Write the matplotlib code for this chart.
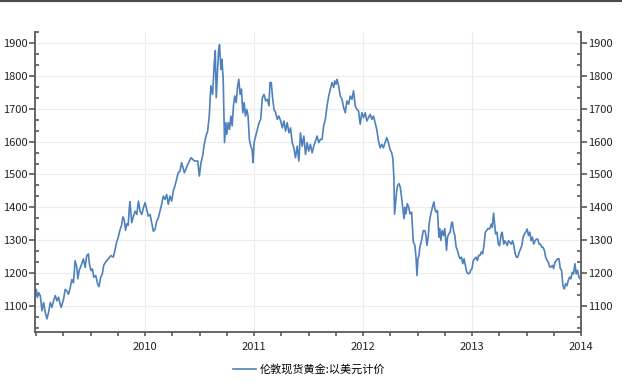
import matplotlib
matplotlib.use('Agg')
import matplotlib.pyplot as plt
from matplotlib.ticker import MultipleLocator, FormatStrFormatter
from matplotlib.lines import Line2D

plt.rcParams['font.family'] = ['Noto Sans CJK SC', 'DejaVu Sans']

# series name
label = '伦敦现货黄金:以美元计价'

# time as decimal year, price in USD
years = [
    2008.993, 2009.002, 2009.011, 2009.023, 2009.039, 2009.054, 2009.069, 2009.084,
    2009.100, 2009.115, 2009.130, 2009.145, 2009.160, 2009.176, 2009.191, 2009.206,
    2009.221, 2009.230, 2009.252, 2009.267, 2009.282, 2009.297, 2009.313, 2009.328,
    2009.343, 2009.358, 2009.374, 2009.383, 2009.395, 2009.413, 2009.434, 2009.450,
    2009.465, 2009.480, 2009.489, 2009.504, 2009.517, 2009.529, 2009.547, 2009.565,
    2009.577, 2009.593, 2009.608, 2009.620, 2009.638, 2009.663, 2009.687, 2009.708,
    2009.724, 2009.739, 2009.754, 2009.769, 2009.784, 2009.797, 2009.809, 2009.821,
    2009.833, 2009.845, 2009.854, 2009.861,
    2009.878, 2009.893, 2009.909, 2009.924, 2009.939, 2009.954, 2009.970, 2009.985,
    2010.000, 2010.015, 2010.030, 2010.046, 2010.061, 2010.076, 2010.091, 2010.107,
    2010.122, 2010.137, 2010.152, 2010.167, 2010.183, 2010.198, 2010.213, 2010.228,
    2010.244, 2010.259, 2010.274, 2010.289, 2010.304, 2010.320, 2010.335,
    2010.361, 2010.391, 2010.422, 2010.452, 2010.483, 2010.498, 2010.513, 2010.528,
    2010.543, 2010.559, 2010.574, 2010.589, 2010.604, 2010.620, 2010.635, 2010.644,
    2010.653, 2010.665, 2010.674, 2010.683, 2010.696, 2010.705, 2010.717, 2010.729,
    2010.741, 2010.750, 2010.763, 2010.775, 2010.787, 2010.799, 2010.811, 2010.823,
    2010.836, 2010.848, 2010.860, 2010.872, 2010.884, 2010.897, 2010.909, 2010.921,
    2010.933, 2010.945, 2010.957, 2010.970, 2010.982, 2010.991,
    2011.000, 2011.015, 2011.030, 2011.046, 2011.061, 2011.076, 2011.091, 2011.107,
    2011.122, 2011.137, 2011.146, 2011.158, 2011.170, 2011.183, 2011.198, 2011.213,
    2011.228, 2011.244, 2011.259, 2011.274, 2011.289, 2011.304, 2011.320, 2011.335,
    2011.350, 2011.365, 2011.380, 2011.396, 2011.411, 2011.426, 2011.441, 2011.457,
    2011.472, 2011.487, 2011.502, 2011.517, 2011.533, 2011.548, 2011.563, 2011.578,
    2011.594, 2011.609, 2011.624, 2011.639, 2011.654, 2011.670, 2011.685, 2011.700,
    2011.715, 2011.731, 2011.740, 2011.752, 2011.761, 2011.776, 2011.791, 2011.807,
    2011.822, 2011.837, 2011.852, 2011.868, 2011.883, 2011.898, 2011.913, 2011.928,
    2011.944, 2011.959, 2011.974, 2011.989,
    2012.005, 2012.020, 2012.035, 2012.050, 2012.065, 2012.081, 2012.096, 2012.111,
    2012.126, 2012.142, 2012.157, 2012.172, 2012.187, 2012.202, 2012.218, 2012.233,
    2012.248, 2012.263, 2012.274, 2012.283, 2012.289, 2012.298, 2012.309, 2012.318,
    2012.330, 2012.342, 2012.355, 2012.367, 2012.376, 2012.385, 2012.394, 2012.406,
    2012.419, 2012.431, 2012.446, 2012.461, 2012.476, 2012.486, 2012.495, 2012.504,
    2012.513, 2012.522, 2012.537, 2012.553, 2012.568, 2012.577, 2012.586, 2012.598,
    2012.607, 2012.616, 2012.629, 2012.641, 2012.650, 2012.659, 2012.671, 2012.683,
    2012.696, 2012.705, 2012.714, 2012.726, 2012.738, 2012.750, 2012.766, 2012.775,
    2012.787, 2012.799, 2012.811, 2012.820, 2012.830, 2012.842, 2012.854, 2012.866,
    2012.878, 2012.890, 2012.903, 2012.915, 2012.927, 2012.939, 2012.951, 2012.963,
    2012.976, 2012.988,
    2013.000, 2013.012, 2013.024, 2013.037, 2013.049, 2013.061, 2013.073, 2013.085,
    2013.097, 2013.110, 2013.122, 2013.134, 2013.146, 2013.162, 2013.177, 2013.186,
    2013.198, 2013.207, 2013.216, 2013.229, 2013.241, 2013.253, 2013.268, 2013.277,
    2013.290, 2013.299, 2013.311, 2013.323, 2013.335, 2013.347, 2013.360, 2013.372,
    2013.384, 2013.396, 2013.408, 2013.420, 2013.433, 2013.445, 2013.457, 2013.469,
    2013.481, 2013.493, 2013.506, 2013.518, 2013.530, 2013.542, 2013.554, 2013.567,
    2013.579, 2013.591, 2013.603, 2013.615, 2013.627, 2013.640, 2013.652, 2013.664,
    2013.676, 2013.688, 2013.700, 2013.713, 2013.725, 2013.737, 2013.749, 2013.761,
    2013.773, 2013.786, 2013.798, 2013.810, 2013.822, 2013.834, 2013.847, 2013.859,
    2013.871, 2013.883, 2013.895, 2013.907, 2013.920, 2013.932, 2013.944, 2013.956,
    2013.968, 2013.981, 2013.993,
]

prices = [
    1140, 1150, 1125, 1140, 1130, 1085, 1110, 1080,
    1060, 1080, 1110, 1095, 1115, 1131, 1115, 1126,
    1105, 1095, 1120, 1150, 1145, 1135, 1155, 1180,
    1170, 1237, 1217, 1182, 1207, 1222, 1243, 1217,
    1253, 1258, 1228, 1207, 1212, 1187, 1192, 1166,
    1158, 1187, 1197, 1223, 1233, 1243, 1253, 1248,
    1269, 1294, 1309, 1330, 1345, 1371, 1361, 1330,
    1350, 1345, 1392, 1417,
    1353, 1373, 1388, 1378, 1419, 1388, 1378, 1399,
    1414, 1394, 1373, 1378, 1353, 1327, 1332, 1358,
    1368, 1388, 1409, 1434, 1424, 1439, 1409, 1434,
    1419, 1450, 1465, 1485, 1505, 1510, 1536,
    1505, 1530, 1551, 1541, 1541, 1495, 1536, 1556,
    1592, 1617, 1632, 1678, 1770, 1744, 1841, 1877,
    1734, 1815, 1877, 1895, 1820, 1851, 1790, 1597,
    1658, 1622, 1658, 1637, 1678, 1648, 1709, 1739,
    1719, 1765, 1790, 1744, 1760, 1688, 1719, 1678,
    1698, 1678, 1607, 1586, 1576, 1536,
    1597, 1617, 1637, 1658, 1668, 1734, 1744, 1724,
    1729, 1709, 1780, 1780, 1734, 1698, 1688, 1668,
    1678, 1663, 1642, 1663, 1632, 1658, 1627, 1642,
    1597, 1581, 1551, 1586, 1541, 1627, 1586, 1617,
    1561, 1597, 1571, 1592, 1566, 1586, 1602, 1617,
    1597, 1607, 1607, 1648, 1668, 1709, 1739, 1760,
    1780, 1765, 1785, 1775, 1790, 1770, 1739, 1729,
    1704, 1688, 1724, 1714, 1739, 1729, 1755, 1709,
    1698, 1693, 1653, 1688,
    1673, 1688, 1663, 1673, 1683, 1668, 1678, 1658,
    1637, 1602, 1581, 1592, 1581, 1597, 1612, 1597,
    1576, 1566, 1548, 1491, 1379, 1410, 1451, 1467,
    1472, 1461, 1426, 1390, 1365, 1400, 1380, 1411,
    1400, 1380, 1385, 1294, 1284, 1248, 1192, 1243,
    1253, 1279, 1299, 1329, 1329, 1314, 1284, 1309,
    1350, 1370, 1390, 1406, 1416, 1396, 1385, 1390,
    1309, 1335, 1299, 1329, 1314, 1335, 1269, 1309,
    1319, 1324, 1350, 1355, 1329, 1314, 1279, 1269,
    1253, 1243, 1248, 1228, 1243, 1223, 1203, 1198,
    1198, 1208,
    1213, 1238, 1243, 1248, 1238, 1253, 1253, 1264,
    1258, 1284, 1324, 1329, 1335, 1334, 1349, 1339,
    1382, 1349, 1319, 1324, 1288, 1283, 1319, 1324,
    1288, 1298, 1293, 1283, 1298, 1293, 1288, 1298,
    1283, 1258, 1248, 1248, 1263, 1273, 1283, 1309,
    1319, 1324, 1334, 1314, 1324, 1298, 1309, 1288,
    1298, 1303, 1303, 1288, 1288, 1278, 1278, 1268,
    1248, 1238, 1233, 1218, 1218, 1223, 1213, 1233,
    1238, 1243, 1243, 1213, 1208, 1161, 1151, 1167,
    1161, 1177, 1187, 1182, 1202, 1197, 1228, 1197,
    1208, 1187, 1182,
]

year_ticks = [2010, 2011, 2012, 2013, 2014]

fig = plt.figure(figsize=(6.22, 3.81), dpi=100)
ax = fig.add_axes([35 / 622, 1 - 332 / 381, (581 - 35) / 622, 300 / 381])

ax.plot(years, prices, color='#4f81bd', linewidth=1.2, label=label)

ax.set_xlim(2008.99, 2014.0)
ax.set_ylim(1020, 1934)

ax.set_xticks(year_ticks)
ax.xaxis.set_major_formatter(FormatStrFormatter('%d'))
ax.xaxis.set_minor_locator(MultipleLocator(0.25))
ax.yaxis.set_major_locator(MultipleLocator(100))
ax.yaxis.set_minor_locator(MultipleLocator(100 / 3))

# grid only on major ticks
ax.grid(True, which='major', color='#ececec', linewidth=0.8)
ax.set_axisbelow(True)

# spines: left, right, bottom in dark grey
for side in ['left', 'right', 'bottom']:
    ax.spines[side].set_color('#5a5a5a')
    ax.spines[side].set_linewidth(1.3)
ax.spines['top'].set_visible(False)

ax.tick_params(axis='y', which='major', direction='out', length=4, width=1.2,
               color='#5a5a5a', labelsize=8, labelcolor='#222222', pad=1,
               left=True, right=True, labelleft=True, labelright=True)
ax.tick_params(axis='y', which='minor', direction='in', length=3, width=1.2,
               color='#5a5a5a', left=True, right=True)
ax.tick_params(axis='x', which='both', direction='out', length=3, width=1.2,
               color='#5a5a5a', labelsize=8, labelcolor='#222222', pad=4)

# legend below the plot
fig.legend(loc='center', bbox_to_anchor=(0.497, 0.03), frameon=False,
           fontsize=8, handlelength=2.1, handletextpad=0.3)

# top frame line
fig.add_artist(Line2D([0, 1], [0.998, 0.998], color='#4a4a4a', linewidth=1.5,
                      transform=fig.transFigure))

plt.savefig('out.png', dpi=100)
